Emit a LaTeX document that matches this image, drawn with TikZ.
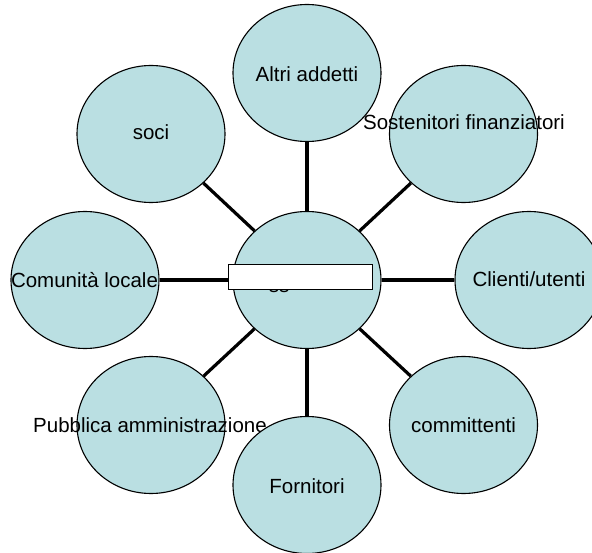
\documentclass[tikz,border=0pt]{standalone}
\usepackage{fontspec}
\setmainfont{Liberation Sans}
\usetikzlibrary{shapes.geometric}
\definecolor{bubble}{RGB}{186,223,226}
\tikzset{stake/.style={ellipse, draw=black, line width=1.1pt, fill=bubble,
minimum width=148pt, minimum height=137pt, inner sep=0pt},
stakelabel/.style={font=\fontsize{20.5}{24}\selectfont, inner sep=0pt, anchor=base},
spoke/.style={line width=3.2pt}}

\begin{document}
\begin{tikzpicture}[x=1pt, y=-1pt]
\useasboundingbox (0,0) rectangle (592,553);

				\node[stake] (core) at (307,280) {};
				\node[stake] (altri) at (307,73) {};
				\node[stake] (soci) at (151,134) {};
				\node[stake] (sost) at (463.5,134) {};
				\node[stake] (com) at (85,280) {};
				\node[stake] (cli) at (529,280) {};
				\node[stake] (pub) at (151,425) {};
				\node[stake] (comm) at (463.5,425) {};

				\node[stakelabel] (altri-t) at (307,81.5) {Altri addetti};
				\node[stakelabel] (soci-t) at (151,140) {soci};
				\node[stakelabel] (sost-t) at (464,129.5) {Sostenitori finanziatori};
				\node[stakelabel] (com-t) at (84.5,288) {Comunità locale};
				\node[stakelabel] (cli-t) at (529,287) {Clienti/utenti};
				\node[stakelabel] (pub-t) at (150,432.5) {Pubblica amministrazione};
				\node[stakelabel] (comm-t) at (463.5,432.5) {committenti};

				\node[stake] (forn) at (307,485) {};
				\node[stakelabel] (forn-t) at (307,493) {Fornitori};

				\foreach \n in {altri,soci,sost,com,cli,pub,comm,forn}
					\draw[spoke] (core) -- (\n);

				\node[stakelabel] (core-t) at (279,292.5) {ss};
				\node[draw, fill=white, line width=1.3pt, minimum width=144pt,
					minimum height=25pt, inner sep=0pt] (title) at (300.5,276.8) {};
\end{tikzpicture}
\end{document}
